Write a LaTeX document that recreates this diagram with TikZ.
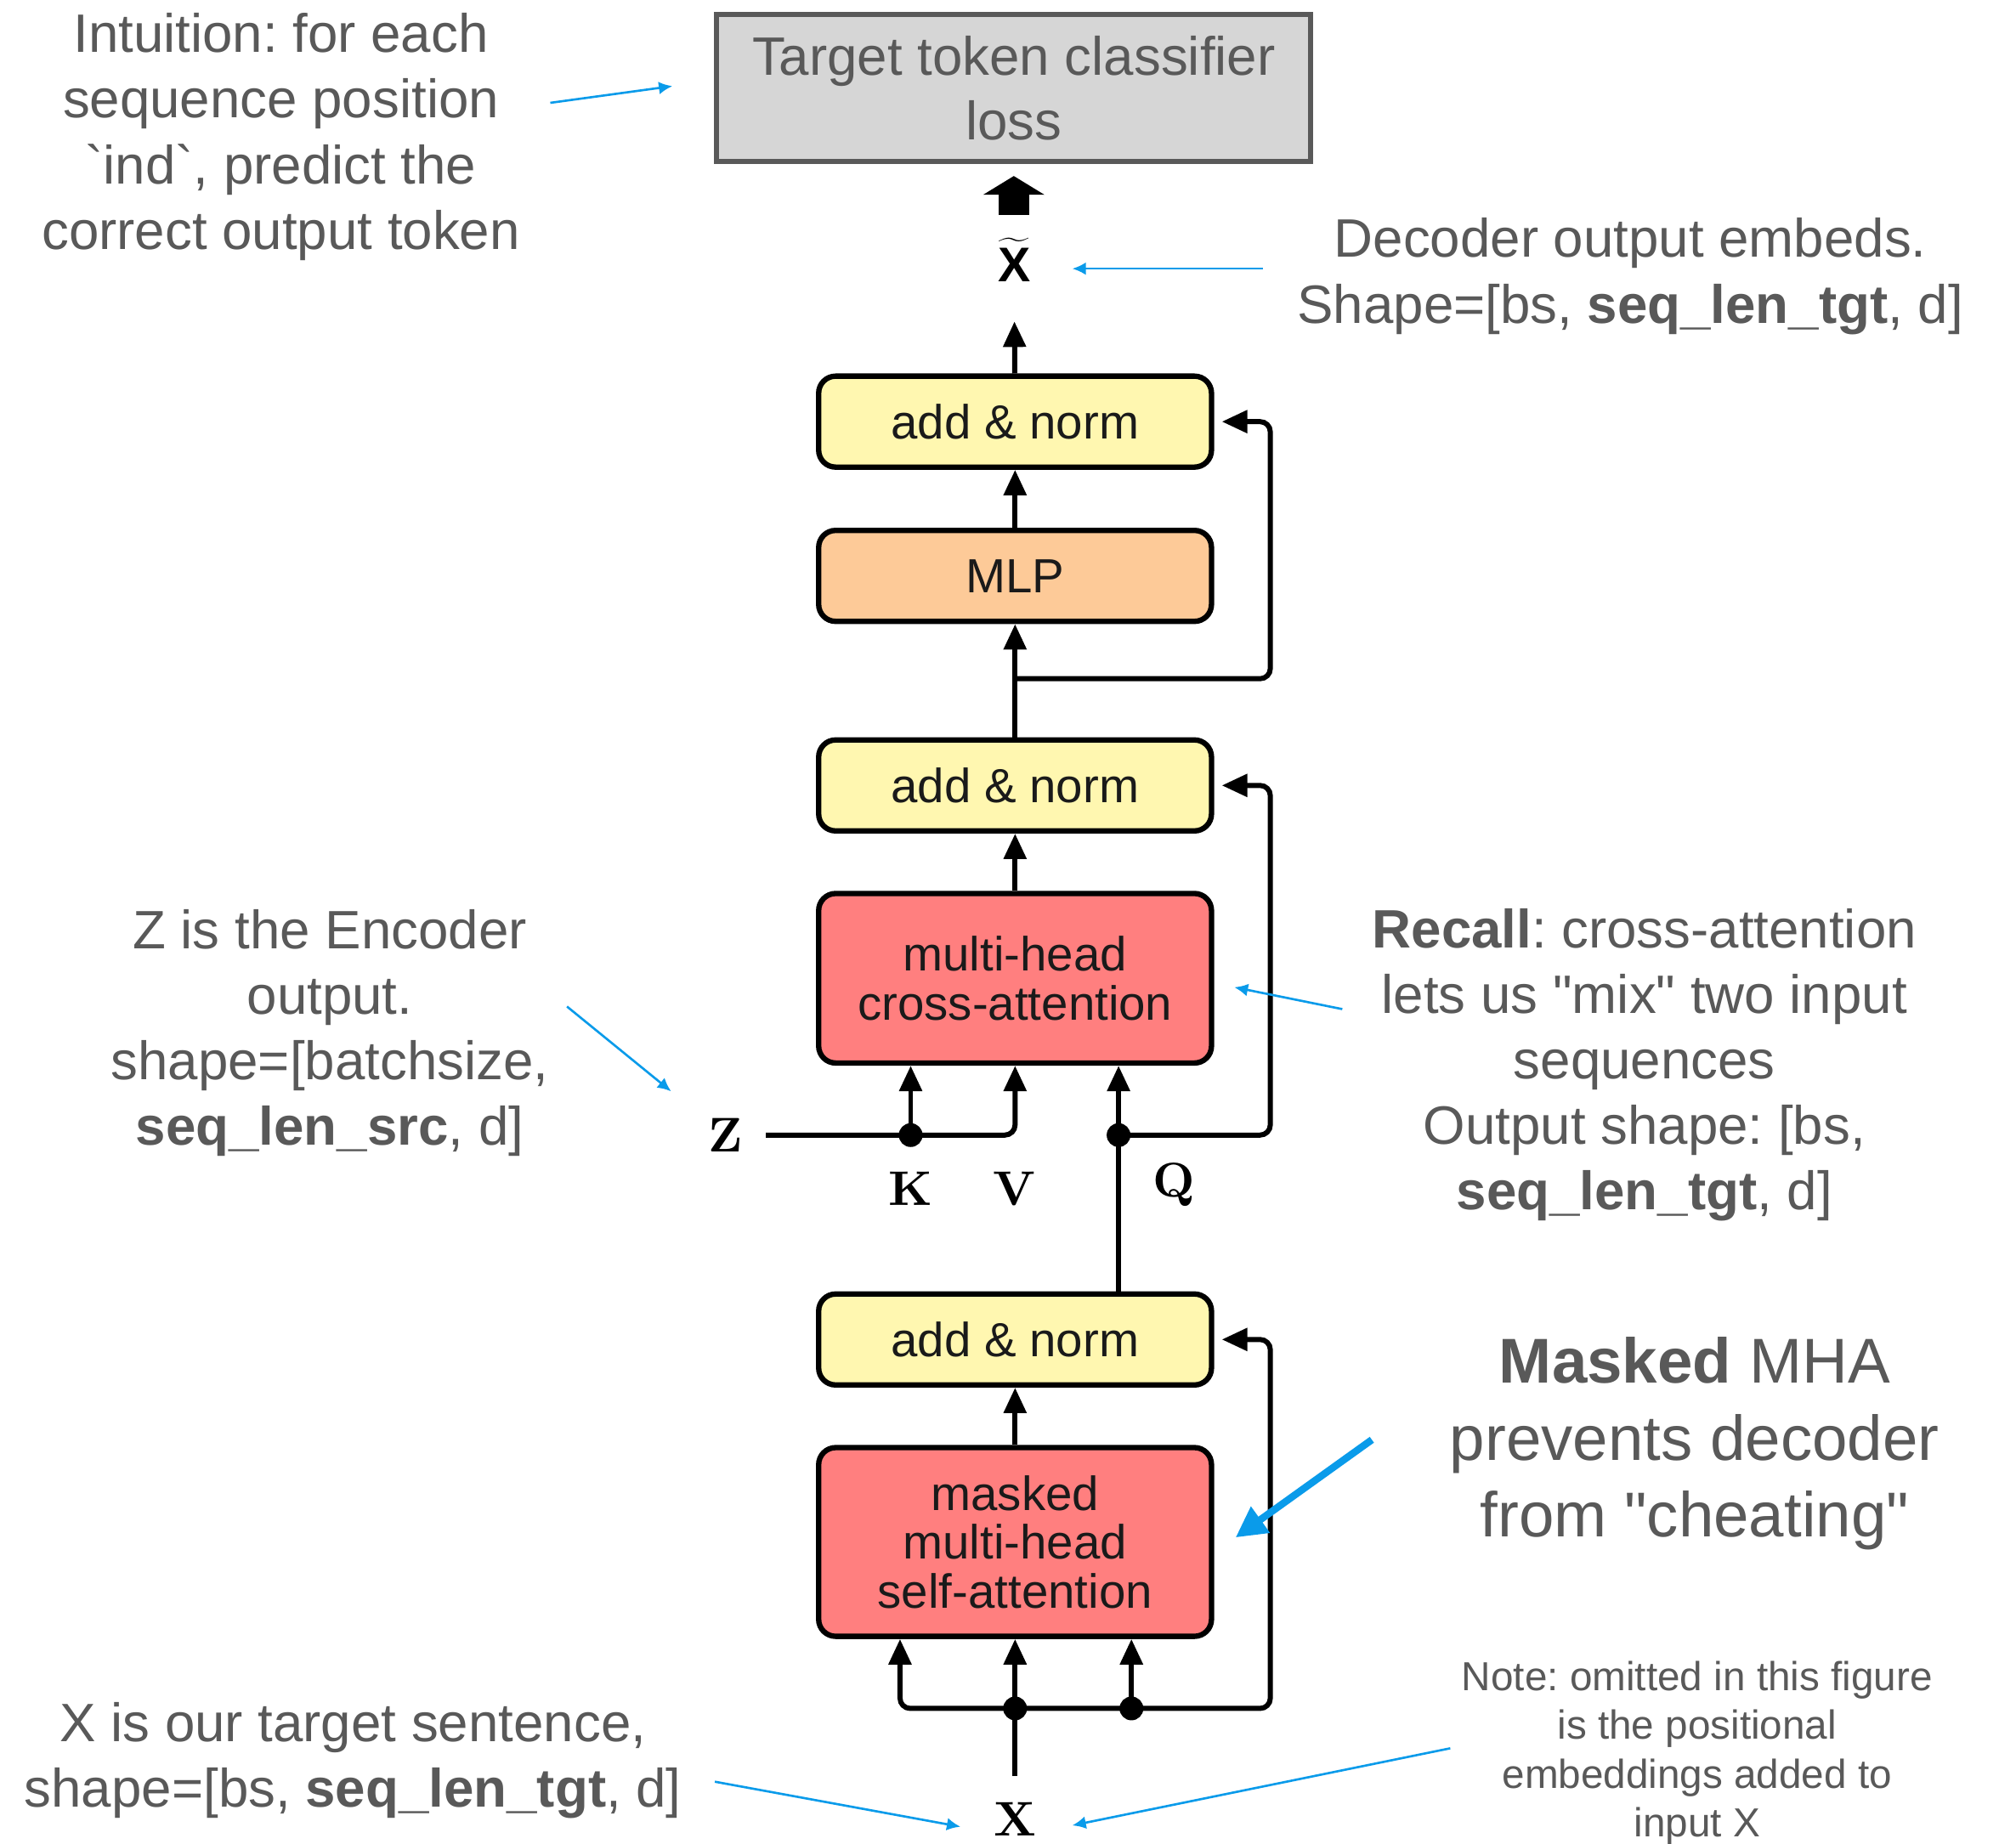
\documentclass[tikz,border=0pt]{standalone}
\usepackage{fontspec}
\setmainfont{Liberation Sans}
\newfontfamily\lmrfont[BoldFont=lmroman10-bold.otf]{lmroman10-regular.otf}
\usetikzlibrary{arrows.meta}
\frenchspacing

\definecolor{notegray}{HTML}{595959}
\definecolor{lossfill}{HTML}{D6D6D6}
\definecolor{normyellow}{HTML}{FFF7B0}
\definecolor{mlppeach}{HTML}{FDCA98}
\definecolor{attnred}{HTML}{FF7F7F}
\definecolor{noteblue}{HTML}{0A9BEA}
\definecolor{boxtext}{HTML}{1A1A1A}

\begin{document}
\begin{tikzpicture}[x=0.015128cm, y=-0.015128cm,
  block/.style={draw=black, line width=1.8pt, rounded corners=0.2cm,
    minimum width=4.62cm, inner sep=0pt, align=center, text=boxtext,
    font=\fontsize{16.05pt}{16.35pt}\selectfont},
  normbox/.style={block, fill=normyellow, minimum height=1.07cm},
  mlpbox/.style={block, fill=mlppeach, minimum height=1.07cm},
  attnbox/.style={block, fill=attnred},
  lossbox/.style={draw=notegray, line width=1.7pt, fill=lossfill,
    minimum width=6.99cm, minimum height=1.73cm, inner sep=0pt,
    align=center, text=notegray, font=\fontsize{18.1pt}{21.45pt}\selectfont},
  wire/.style={line width=1.7pt, rounded corners=0.12cm},
  conn/.style={wire, -{Triangle[length=0.3cm,width=0.26cm]}},
  dotmark/.style={circle, fill=black, inner sep=0pt, minimum size=0.28cm},
  ann/.style={text=notegray, align=center, font=\fontsize{18.1pt}{21.95pt}\selectfont},
  bigann/.style={text=notegray, align=center, font=\fontsize{21.2pt}{25.8pt}\selectfont},
  smallann/.style={text=notegray, align=center, font=\fontsize{13.56pt}{16.35pt}\selectfont},
  pointer/.style={draw=noteblue, line width=0.75pt, -{Latex[length=0.16cm,width=0.15cm]}},
  bigpointer/.style={draw=noteblue, line width=2.4pt, -{Triangle[length=0.36cm,width=0.36cm]}},
  sym/.style={inner sep=0pt, anchor=base, font=\lmrfont\bfseries\fontsize{16.3pt}{16.3pt}\selectfont},
  blockarrow/.style={line width=0.36cm, -{Triangle[length=0.22cm,width=0.71cm]}}
]
% page
\fill[white] (0,0) rectangle (1568,1434);
\useasboundingbox (0,0) rectangle (1568,1434);

% decoder blocks
\node[lossbox] (loss) at (788.5,68.5) {Target token classifier\\loss};
\node[normbox] (an3) at (789.5,328) {add \& norm};
\node[mlpbox] (mlp) at (789.5,448) {MLP};
\node[normbox] (an2) at (789.5,611) {add \& norm};
\node[attnbox, minimum height=1.994cm] (cross) at (789.5,761) {multi-head\\cross-attention};
\node[normbox] (an1) at (789.5,1042) {add \& norm};
\node[attnbox, minimum height=2.22cm] (masked) at (789.5,1199.5) {masked\\multi-head\\self-attention};

% symbols
\node[sym] (xt) at (789,219) {$\widetilde{\mathbf{X}}$};
\node[sym] (z) at (564,896) {Z};
\node[sym] (k) at (708.3,938) {K};
\node[sym] (v) at (788.6,938) {V};
\node[sym] (q) at (913.3,931) {Q};
\node[sym] (xin) at (789.5,1428) {X};

% junctions
\coordinate (rail) at (988,0);
\coordinate (br2) at (789.5,528);
\coordinate (kdot) at (708.3,883);
\coordinate (qdot) at (870,883);
\coordinate (mdot) at (789.5,1329);
\coordinate (rdot) at (880,1329);
\coordinate (lbend) at (700,1329);

% main path, bottom to top
\draw[conn] ([yshift=0.30cm]xin.north) -- (masked.south);
\draw[conn] (mdot) -- (lbend) -- (masked.south -| lbend);
\draw[conn] (rdot) -- (masked.south -| rdot);
\draw[conn, shorten >=0.09cm] (mdot) -- (mdot -| rail) |- (an1.east);
\draw[conn] (masked) -- (an1);

\draw[conn] (an1.north -| qdot) -- (cross.south -| qdot);
\draw[conn, shorten >=0.09cm] (qdot) -- (qdot -| rail) |- (an2.east);
\draw[conn] ([xshift=0.27cm]z.east |- kdot) -- (kdot) -| (cross.south);
\draw[conn] (kdot) -- (cross.south -| kdot);
\draw[conn] (cross) -- (an2);

\draw[conn] (an2) -- (mlp);
\draw[conn, shorten >=0.09cm] (br2) -- (br2 -| rail) |- (an3.east);
\draw[conn] (mlp) -- (an3);
\draw[conn] (an3) -- ([yshift=-0.47cm]xt.base);
\draw[blockarrow] ([yshift=-0.6cm]loss.south) -- ([yshift=-0.14cm]loss.south);

\foreach \p in {kdot,qdot,mdot,rdot} \node[dotmark] at (\p) {};

% annotations
\node[ann] (intuition) at (218.5,106.5) {Intuition: for each\\sequence position\\\textasciigrave ind\textasciigrave, predict the\\correct output token};
\node[ann] (decout) at (1268,215) {Decoder output embeds.\\Shape=[bs, \textbf{seq\_len\_tgt}, d]};
\node[ann] (zenc) at (256.5,803.5) {Z is the Encoder\\output.\\shape=[batchsize,\\\textbf{seq\_len\_src}, d]};
\node[ann] (recall) at (1279,828.5) {\textbf{Recall}: cross-attention\\lets us \textquotedbl mix\textquotedbl{} two input\\sequences\\Output shape: [bs,\\\textbf{seq\_len\_tgt}, d]};
\node[bigann] (maskednote) at (1318,1123) {\textbf{Masked} MHA\\prevents decoder\\from \textquotedbl cheating\textquotedbl};
\node[smallann] (posnote) at (1320,1364) {Note: omitted in this figure\\is the positional\\embeddings added to\\input X};
\node[ann] (xsent) at (274.5,1369.5) {X is our target sentence,\\shape=[bs, \textbf{seq\_len\_tgt}, d]};

% pointers
\coordinate (p1s) at (428,80);   \coordinate (p1e) at (523,67);
\coordinate (p2s) at (982,209);  \coordinate (p2e) at (834,209);
\coordinate (p3s) at (441,783);  \coordinate (p3e) at (522,849);
\coordinate (p4s) at (1044,785); \coordinate (p4e) at (960,768);
\coordinate (p5s) at (1067,1120); \coordinate (p5e) at (961,1196);
\coordinate (p6s) at (556,1386); \coordinate (p6e) at (747,1421);
\coordinate (p7s) at (1128,1360); \coordinate (p7e) at (834,1420);
\draw[pointer] (p1s) -- (p1e);
\draw[pointer] (p2s) -- (p2e);
\draw[pointer] (p3s) -- (p3e);
\draw[pointer] (p4s) -- (p4e);
\draw[bigpointer] (p5s) -- (p5e);
\draw[pointer] (p6s) -- (p6e);
\draw[pointer] (p7s) -- (p7e);
\end{tikzpicture}
\end{document}
